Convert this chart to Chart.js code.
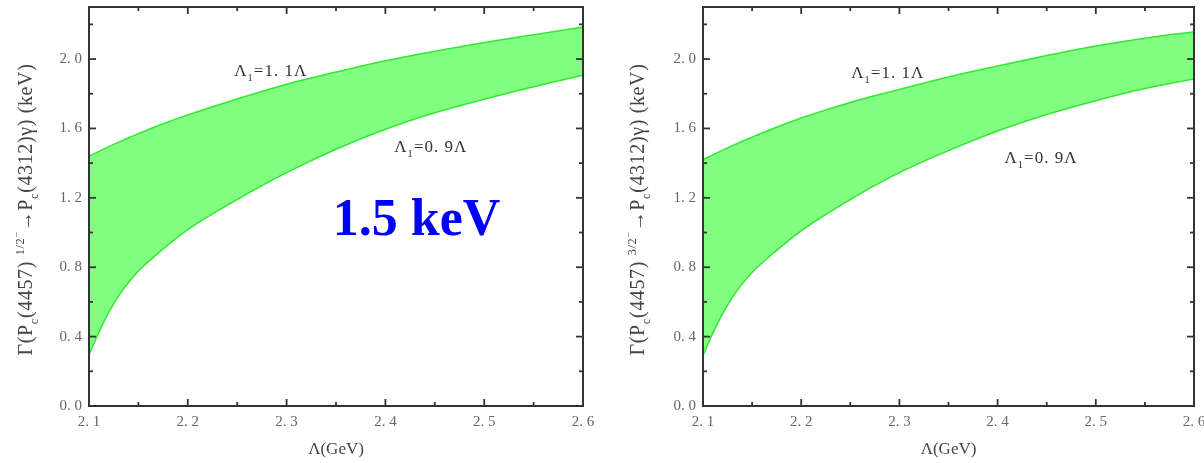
<!DOCTYPE html>
<html><head><meta charset="utf-8">
<script src="https://cdn.jsdelivr.net/npm/chart.js@4.4.1/dist/chart.umd.min.js"></script>
<style>
html,body{margin:0;padding:0;background:#fff;overflow:hidden;}
#wrap{position:relative;width:1204px;height:463px;}
.c{position:absolute;top:0;width:602px;height:463px;}
</style></head><body>
<div id="wrap">
<div class="c" style="left:0"><canvas id="c1"></canvas></div>
<div class="c" style="left:602px"><canvas id="c2"></canvas></div>
</div>
<script>
// ---- data ----
const lambdaGeV  = [2.10, 2.11, 2.12, 2.13, 2.14, 2.15, 2.175, 2.20, 2.25, 2.30, 2.35, 2.40, 2.45, 2.50, 2.55, 2.60];
const leftUpper  = [1.44, 1.468, 1.495, 1.521, 1.546, 1.570, 1.627, 1.678, 1.77, 1.855, 1.925, 1.99, 2.045, 2.095, 2.14, 2.185]; // Λ1=1.1Λ
const leftLower  = [0.295, 0.425, 0.54, 0.635, 0.712, 0.778, 0.905, 1.017, 1.19, 1.345, 1.48, 1.595, 1.69, 1.768, 1.84, 1.907]; // Λ1=0.9Λ
const rightUpper = [1.42, 1.448, 1.475, 1.501, 1.526, 1.55, 1.607, 1.66, 1.75, 1.825, 1.897, 1.96, 2.02, 2.075, 2.12, 2.158];
const rightLower = [0.29, 0.42, 0.532, 0.627, 0.704, 0.77, 0.897, 1.01, 1.19, 1.345, 1.472, 1.585, 1.68, 1.76, 1.83, 1.885];

const X_MAJOR = [2.1, 2.2, 2.3, 2.4, 2.5, 2.6];
const X_MINOR = [2.15, 2.25, 2.35, 2.45, 2.55];
const X_TICK_LABELS = ['2. 1', '2. 2', '2. 3', '2. 4', '2. 5', '2. 6'];
const Y_MAJOR = [0, 0.4, 0.8, 1.2, 1.6, 2.0];
const Y_MINOR = [0.2, 0.6, 1.0, 1.4, 1.8, 2.2];
const Y_TICK_LABELS = ['0. 0', '0. 4', '0. 8', '1. 2', '1. 6', '2. 0'];

const SERIF = '"Liberation Serif", "DejaVu Serif", serif';

function drawRich(ctx, segs, x, y, size, color) {
  let cx = x;
  ctx.fillStyle = color;
  ctx.textBaseline = 'alphabetic';
  ctx.textAlign = 'left';
  for (const s of segs) {
    let sz = size, dy = 0;
    if (s.k === 'sub') { sz = size * 0.62; dy = size * 0.28; }
    else if (s.k === 'sup') { sz = size * 0.62; dy = -size * 0.42; }
    else if (s.k === 'sup2') { sz = size * 0.5; dy = -size * 0.62; }
    ctx.font = `${sz}px ${SERIF}`;
    ctx.fillText(s.t, cx, y + dy);
    cx += ctx.measureText(s.t).width;
  }
  return cx - x;
}
function richWidth(ctx, segs, size) {
  let w = 0;
  for (const s of segs) {
    let sz = s.k === 'sub' || s.k === 'sup' ? size * 0.62 : s.k === 'sup2' ? size * 0.5 : size;
    ctx.font = `${sz}px ${SERIF}`;
    w += ctx.measureText(s.t).width;
  }
  return w;
}

const framePlugin = {
  id: 'frame',
  afterDatasetsDraw(chart, args, o) {
    const {ctx, chartArea: a, scales: {x, y}} = chart;
    ctx.save();
    ctx.strokeStyle = '#333';
    ctx.lineWidth = 1.8;
    const line = (x1, y1, x2, y2) => { ctx.beginPath(); ctx.moveTo(x1, y1); ctx.lineTo(x2, y2); ctx.stroke(); };
    X_MAJOR.forEach(v => { const p = x.getPixelForValue(v); line(p, a.bottom, p, a.bottom - 7); line(p, a.top, p, a.top + 7); });
    X_MINOR.forEach(v => { const p = x.getPixelForValue(v); line(p, a.bottom, p, a.bottom - 4); line(p, a.top, p, a.top + 4); });
    Y_MAJOR.forEach(v => { const p = y.getPixelForValue(v); line(a.left, p, a.left + 7, p); line(a.right, p, a.right - 7, p); });
    Y_MINOR.forEach(v => { const p = y.getPixelForValue(v); line(a.left, p, a.left + 4, p); line(a.right, p, a.right - 4, p); });
    ctx.lineWidth = 2;
    ctx.strokeRect(a.left, a.top, a.right - a.left, a.bottom - a.top);

    // annotations
    ctx.letterSpacing = '1px';
    for (const an of o.notes) {
      drawRich(ctx, an.segs, x.getPixelForValue(an.x), y.getPixelForValue(an.y), an.size, an.color);
    }
    if (o.big) {
      ctx.letterSpacing = '0px';
      ctx.font = `bold ${o.big.size}px ${SERIF}`;
      ctx.fillStyle = o.big.color;
      ctx.textAlign = 'left';
      ctx.textBaseline = 'alphabetic';
      ctx.fillText(o.big.text, x.getPixelForValue(o.big.x), y.getPixelForValue(o.big.y));
    }
    // rotated y title
    const size = 20;
    ctx.letterSpacing = '0px';
    const w0 = richWidth(ctx, o.ytitle, size);
    const nChars = o.ytitle.reduce((n, s) => n + s.t.length, 0);
    const ls = Math.max(0, (o.ytitleLen - w0) / nChars);
    ctx.letterSpacing = ls.toFixed(2) + 'px';
    const w = richWidth(ctx, o.ytitle, size);
    ctx.translate(o.ytitleX, (a.top + a.bottom) / 2 + 3);
    ctx.rotate(-Math.PI / 2);
    drawRich(ctx, o.ytitle, -w / 2, size * 0.35, size, '#444');
    ctx.restore();
  }
};

function makeChart(id, upper, lower, opt) {
  const toPts = arr => lambdaGeV.map((l, i) => ({x: l, y: arr[i]}));
  return new Chart(document.getElementById(id), {
    type: 'line',
    data: {
      datasets: [
        {label: 'Λ1=0.9Λ', data: toPts(lower), borderColor: '#33e833', borderWidth: 1.5, pointRadius: 0, fill: false, cubicInterpolationMode: 'monotone'},
        {label: 'Λ1=1.1Λ', data: toPts(upper), borderColor: '#33e833', borderWidth: 1.5, pointRadius: 0, backgroundColor: 'rgb(128,255,128)', fill: '-1', cubicInterpolationMode: 'monotone'}
      ]
    },
    options: {
      responsive: true, maintainAspectRatio: false, animation: false,
      layout: {padding: {left: 0, right: opt.padRight, top: 7, bottom: 0}},
      plugins: {legend: {display: false}, tooltip: {enabled: false}, frame: opt.frame},
      scales: {
        x: {
          type: 'linear', min: 2.1, max: 2.6,
          grid: {display: false, drawTicks: false}, border: {display: false},
          afterBuildTicks: s => { s.ticks = X_MAJOR.map(v => ({value: v})); },
          ticks: {callback: (v, i) => X_TICK_LABELS[i], color: '#666', font: {family: SERIF, size: 15}, padding: 7, maxRotation: 0, autoSkip: false},
          title: {display: true, text: 'Λ(GeV)', color: '#444', font: {family: SERIF, size: 17}, padding: {top: 0, bottom: 3}},
          afterFit: s => { s.height = 57; s.paddingLeft = 0; s.paddingRight = 0; }
        },
        y: {
          type: 'linear', min: 0, max: 2.3,
          grid: {display: false, drawTicks: false}, border: {display: false},
          afterBuildTicks: s => { s.ticks = Y_MAJOR.map(v => ({value: v})); },
          ticks: {callback: (v, i) => Y_TICK_LABELS[i], color: '#666', font: {family: SERIF, size: 15}, padding: 7, autoSkip: false},
          afterFit: s => { s.width = opt.yWidth; s.paddingTop = 0; s.paddingBottom = 0; }
        }
      }
    },
    plugins: [framePlugin]
  });
}

const noteSize = 17;
makeChart('c1', leftUpper, leftLower, {
  padRight: 19, yWidth: 89,
  frame: {
    notes: [
      {segs: [{t: 'Λ'}, {t: '1', k: 'sub'}, {t: '=1. 1Λ'}], x: 2.247, y: 1.90, size: noteSize, color: '#333'},
      {segs: [{t: 'Λ'}, {t: '1', k: 'sub'}, {t: '=0. 9Λ'}], x: 2.409, y: 1.462, size: noteSize, color: '#333'}
    ],
    big: {text: '1.5 keV', x: 2.3467, y: 0.988, size: 52, color: '#0000ff'},
    ytitle: [{t: 'Γ(P'}, {t: 'c', k: 'sub'}, {t: '(4457) '}, {t: '1/2', k: 'sup'}, {t: '−', k: 'sup2'}, {t: '→P'}, {t: 'c', k: 'sub'}, {t: '(4312)γ) (keV)'}],
    ytitleX: 25, ytitleLen: 292
  }
});
makeChart('c2', rightUpper, rightLower, {
  padRight: 10, yWidth: 101,
  frame: {
    notes: [
      {segs: [{t: 'Λ'}, {t: '1', k: 'sub'}, {t: '=1. 1Λ'}], x: 2.251, y: 1.892, size: noteSize, color: '#333'},
      {segs: [{t: 'Λ'}, {t: '1', k: 'sub'}, {t: '=0. 9Λ'}], x: 2.407, y: 1.401, size: noteSize, color: '#333'}
    ],
    big: null,
    ytitle: [{t: 'Γ(P'}, {t: 'c', k: 'sub'}, {t: '(4457) '}, {t: '3/2', k: 'sup'}, {t: '−', k: 'sup2'}, {t: '→P'}, {t: 'c', k: 'sub'}, {t: '(4312)γ) (keV)'}],
    ytitleX: 35, ytitleLen: 292
  }
});
</script>
</body></html>
